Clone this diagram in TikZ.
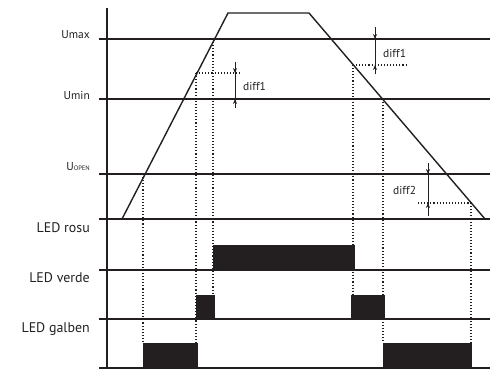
\documentclass[tikz,border=0pt]{standalone}
\usepackage{fontspec}
\setmainfont{PT Sans}
\usetikzlibrary{arrows.meta}
\definecolor{ink}{RGB}{35,31,32}
\begin{document}
\begin{tikzpicture}[x=1bp, y=-1bp, >={Stealth[length=5bp,width=4bp]}, color=ink]
  \tikzset{
    sigline/.style={line width=1.4bp},
    dotline/.style={dotted, line width=1.1bp},
    ledbar/.style={fill=ink},
    dimline/.style={line width=0.8bp},
    lbl/.style={anchor=base east, inner sep=0pt, font=\fontsize{11.5}{13}\selectfont},
    ledlbl/.style={anchor=base east, inner sep=0pt, font=\fontsize{14}{16}\selectfont},
    difflbl/.style={anchor=base west, inner sep=0pt, font=\fontsize{11.5}{13}\selectfont}
  }
  \useasboundingbox (0,0) rectangle (490,369);
  % led bars
  \fill[ledbar] (213,245) rectangle (355,270);
  \fill[ledbar] (196,295) rectangle (215,319);
  \fill[ledbar] (351,295) rectangle (385,319);
  \fill[ledbar] (143,343) rectangle (198,368);
  \fill[ledbar] (383,343) rectangle (472,368);
  % levels and axis
  \foreach \yy in {39,99,174,219,270,319,368}
    \draw[sigline] (99,\yy) -- (490,\yy);
  \draw[sigline] (107,8) -- (107,368);
  \draw[sigline] (122,219) -- (228,13) -- (309,13) -- (485,219);
  % projections
  \draw[dotline] (143,174) -- (143,343);
  \draw[dotline] (196,73) -- (196,343);
  \draw[dotline] (213,39) -- (213,295);
  \draw[dotline] (353,65) -- (353,295);
  \draw[dotline] (383,99) -- (383,343);
  \draw[dotline] (471,203) -- (471,343);
  \draw[dotline] (196,73) -- (240,73);
  \draw[dotline] (353,65) -- (407,65);
  \draw[dotline] (418,203) -- (471,203);
  % hysteresis marks
  \draw[dimline] (235,62) -- (235,108);
  \draw[dimline,->] (235,62) -- (235,73);
  \draw[dimline,->] (235,108) -- (235,99);
  \draw[dimline] (375,27) -- (375,74);
  \draw[dimline,->] (375,27) -- (375,39);
  \draw[dimline,->] (375,74) -- (375,65);
  \draw[dimline] (428,163) -- (428,216);
  \draw[dimline,->] (428,163) -- (428,174);
  \draw[dimline,->] (428,216) -- (428,203);
  % labels
  \node[lbl] (umax) at (90,38) {Umax};
  \node[lbl] (umin) at (90,99) {Umin};
  \node[lbl] (uopen) at (90,170) {U{\fontsize{6.5}{7}\selectfont OPEN}};
  \node[ledlbl] (rosu) at (90,232) {LED rosu};
  \node[ledlbl] (verde) at (90,282) {LED verde};
  \node[ledlbl] (galben) at (90,332) {LED galben};
  \node[difflbl] (diffa) at (243,90) {diff1};
  \node[difflbl] (diffb) at (383,57) {diff1};
  \node[difflbl] (diffc) at (393,194) {diff2};
\end{tikzpicture}
\end{document}
